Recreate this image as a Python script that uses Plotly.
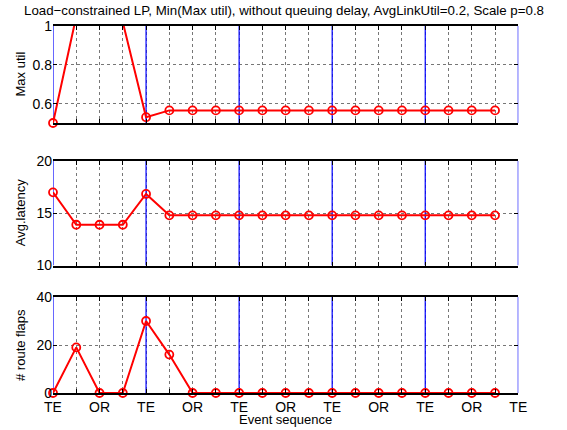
import plotly.graph_objects as go

# ---- data ----
events = list(range(1, 21))
max_util = [0.5, 1.05, 1.08, 1.02, 0.53, 0.565, 0.565, 0.565, 0.565, 0.565,
            0.565, 0.565, 0.565, 0.565, 0.565, 0.565, 0.565, 0.565, 0.565, 0.565]
avg_latency = [17.0, 13.9, 13.9, 13.9, 16.85, 14.8, 14.8, 14.8, 14.8, 14.8,
               14.8, 14.8, 14.8, 14.8, 14.8, 14.8, 14.8, 14.8, 14.8, 14.8]
route_flaps = [0, 19, 0, 0, 30, 16, 0, 0, 0, 0,
               0, 0, 0, 0, 0, 0, 0, 0, 0, 0]
te_positions = [1, 5, 9, 13, 17, 21]
tick_vals = list(range(1, 22))
tick_text = ["TE", "", "OR", "", "TE", "", "OR", "", "TE", "", "OR", "",
             "TE", "", "OR", "", "TE", "", "OR", "", "TE"]

title = "Load\u2212constrained LP, Min(Max util), without queuing delay, AvgLinkUtil=0.2, Scale p=0.8"
ylabels = ["Max util", "Avg.latency", "# route flaps"]
yranges = [[0.5, 1.0], [10, 20], [0, 40]]
yticks = [[0.6, 0.8, 1.0], [10, 15, 20], [0, 20, 40]]
yticktext = [["0.6", "0.8", "1"], ["10", "15", "20"], ["0", "20", "40"]]
series = [max_util, avg_latency, route_flaps]

W, H = 567, 430
xdom = [53 / W, 518.3 / W]
ypix = [(26, 123), (161, 265.5), (297, 393)]
ydoms = [[1 - b / H, 1 - t / H] for t, b in ypix]

FONT = "Liberation Sans, Arial, Helvetica, sans-serif"
fig = go.Figure()

for i in range(3):
    xa = "x" if i == 0 else f"x{i+1}"
    ya = "y" if i == 0 else f"y{i+1}"
    lo, hi = yranges[i]
    # blue TE markers (vertical lines)
    bx, by = [], []
    for p in te_positions:
        bx += [p, p, None]
        by += [lo, hi, None]
    fig.add_trace(go.Scatter(x=bx, y=by, mode="lines", xaxis=xa, yaxis=ya,
                             line=dict(color="#0000ff", width=1.2),
                             cliponaxis=False, showlegend=False, hoverinfo="skip"))
    vals = series[i]
    fig.add_trace(go.Scatter(x=events, y=vals, mode="lines", xaxis=xa, yaxis=ya,
                             line=dict(color="#ff0000", width=2),
                             cliponaxis=True, showlegend=False))
    mvals = [v if lo <= v <= hi else None for v in vals]
    fig.add_trace(go.Scatter(x=events, y=mvals, mode="markers", xaxis=xa, yaxis=ya,
                             marker=dict(symbol="circle-open", size=8, color="#ff0000",
                                         line=dict(width=1.8, color="#ff0000")),
                             cliponaxis=False, showlegend=False))

    xkey = "xaxis" if i == 0 else f"xaxis{i+1}"
    ykey = "yaxis" if i == 0 else f"yaxis{i+1}"
    fig.layout[xkey] = dict(
        domain=xdom, anchor=ya, range=[1, 21], automargin=False,
        tickmode="array", tickvals=tick_vals,
        ticktext=tick_text if i == 2 else [""] * len(tick_vals),
        ticks="inside", ticklen=4, tickcolor="black", mirror="ticks",
        showline=True, linecolor="black", linewidth=1.6,
        showgrid=True, gridcolor="#777777", griddash="dot", gridwidth=1,
        zeroline=False, tickfont=dict(family=FONT, size=14, color="black"),
        fixedrange=True,
    )
    fig.layout[ykey] = dict(
        domain=ydoms[i], anchor=xa, range=yranges[i], automargin=False,
        tickmode="array", tickvals=yticks[i], ticktext=yticktext[i],
        ticks="inside", ticklen=4, tickcolor="black", mirror="ticks",
        showline=False,
        showgrid=True, gridcolor="#777777", griddash="dot", gridwidth=1,
        zeroline=False, tickfont=dict(family=FONT, size=14, color="black"),
        fixedrange=True,
    )
    fig.add_annotation(text=ylabels[i], xref="paper", yref="paper",
                       x=20 / W, y=sum(ydoms[i]) / 2, textangle=-90,
                       showarrow=False, xanchor="center", yanchor="middle",
                       font=dict(family=FONT, size=13, color="black"))

fig.add_annotation(text=title, xref="paper", yref="paper", x=284 / W, y=1 - 10 / H,
                   showarrow=False, xanchor="center", yanchor="middle",
                   font=dict(family=FONT, size=13.3, color="black"))
fig.add_annotation(text="Event sequence", xref="paper", yref="paper",
                   x=285 / W, y=1 - 419 / H, showarrow=False,
                   xanchor="center", yanchor="middle",
                   font=dict(family=FONT, size=13, color="black"))

fig.update_layout(width=W, height=H, margin=dict(l=0, r=0, t=0, b=0, autoexpand=False),
                  paper_bgcolor="white", plot_bgcolor="white", showlegend=False)
fig.write_html("out.html")
